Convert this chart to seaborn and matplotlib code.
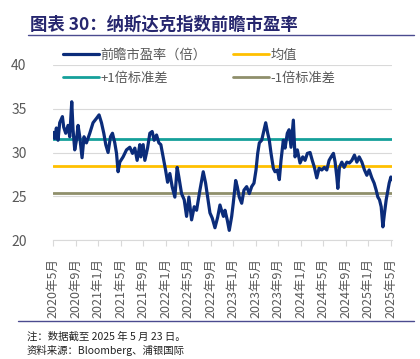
import numpy as np
import pandas as pd
import matplotlib
matplotlib.use("Agg")
import matplotlib.pyplot as plt
import seaborn as sns

# ------------------------
# DATA
# ------------------------
# months since 2020-05
month_pos = [
    0.0, 0.30, 0.60, 0.89, 1.19, 1.67, 1.90, 2.26, 2.67, 2.97,
    3.33, 3.56, 3.86, 4.16, 4.45, 4.75, 5.16, 5.51, 5.94, 6.53,
    7.11, 7.72, 8.18, 8.61, 9.02, 9.37, 9.78, 10.21, 10.56, 10.97,
    11.28, 11.56, 11.86, 12.45, 13.05, 13.64, 14.12, 14.53, 14.94, 15.42,
    15.60, 16.01, 16.31, 16.79, 17.20, 17.61, 17.96, 18.39, 18.80, 19.15,
    19.56, 19.99, 20.35, 20.75, 21.16, 21.64, 22.05, 22.35, 22.83, 23.30,
    23.72, 24.13, 24.61, 25.08, 25.50, 26.09, 26.68, 27.10, 27.46, 27.87,
    28.28, 28.76, 29.24, 29.65, 30.06, 30.27, 30.54, 30.94, 31.30, 31.73,
    32.01, 32.44, 32.72, 33.08, 33.51, 33.91, 34.39, 34.86, 35.28, 35.69,
    36.05, 36.35, 36.64, 37.06, 37.35, 37.77, 38.13, 38.41, 38.72, 39.13,
    39.43, 39.84, 40.19, 40.49, 40.90, 41.21, 41.61, 41.92, 42.27, 42.68,
    42.98, 43.39, 43.87, 44.35, 44.76, 45.17, 45.65, 46.04, 46.42, 46.84,
    47.25, 47.73, 48.19, 48.62, 49.03, 49.39, 49.80, 50.10, 50.40, 50.58,
    50.86, 51.29, 51.70, 52.18, 52.64, 53.07, 53.53, 53.96, 54.37, 54.85,
    55.31, 55.73, 56.14, 56.62, 57.03, 57.39, 57.69, 57.98, 58.28, 58.58,
    58.87, 59.17, 59.47, 59.70, 60.00, 60.18,
]
pe_values = [
    32.3, 31.6, 32.8, 31.4, 33.4, 34.1, 32.9, 32.2, 33.1, 31.8,
    35.8, 32.6, 30.3, 31.4, 33.1, 31.8, 29.4, 31.8, 31.1, 32.2,
    33.4, 33.9, 34.3, 33.4, 32.2, 30.9, 30.0, 31.8, 32.2, 31.1,
    29.9, 27.8, 28.9, 29.5, 30.3, 30.6, 29.9, 30.5, 29.1, 30.9,
    29.5, 30.9, 29.1, 30.5, 32.2, 32.4, 31.4, 32.0, 31.1, 30.9,
    29.5, 28.0, 26.6, 27.6, 26.1, 24.9, 28.3, 27.2, 25.3, 24.6,
    22.7, 24.9, 22.3, 23.8, 23.4, 25.7, 27.8, 26.5, 24.9, 23.1,
    22.5, 21.4, 22.6, 24.0, 23.1, 22.7, 23.4, 22.3, 21.1, 22.7,
    24.2, 26.8, 26.1, 24.9, 24.2, 25.7, 26.1, 25.3, 26.1, 26.5,
    28.0, 29.9, 31.1, 31.4, 32.2, 33.4, 32.2, 31.4, 29.9, 28.2,
    27.8, 28.0, 26.9, 29.1, 31.4, 30.5, 32.2, 32.6, 30.6, 33.7,
    29.5, 30.3, 28.8, 29.5, 29.1, 29.9, 30.0, 29.1, 28.3, 27.1,
    28.2, 28.0, 28.3, 28.0, 29.1, 29.5, 29.9, 28.9, 27.2, 25.9,
    28.3, 28.9, 28.3, 28.9, 28.8, 29.1, 29.7, 28.9, 29.5, 28.9,
    28.0, 27.4, 28.0, 27.1, 26.5, 25.7, 24.9, 24.6, 23.8, 21.5,
    23.1, 24.6, 25.7, 26.5, 27.2, 26.9,
]
mean_pe = 28.45
upper_pe = 31.5
lower_pe = 25.4

tick_months = list(range(0, 61, 4))
tick_labels = [
    "2020年5月", "2020年9月", "2021年1月", "2021年5月", "2021年9月",
    "2022年1月", "2022年5月", "2022年9月", "2023年1月", "2023年5月",
    "2023年9月", "2024年1月", "2024年5月", "2024年9月", "2025年1月",
    "2025年5月",
]

# ------------------------
# STYLE
# ------------------------
sns.set_theme(style="white")
plt.rcParams['font.family'] = ['Noto Sans CJK SC', 'DejaVu Sans']

GRAY_TXT = "#595959"
NAVY = "#0B2C7A"
TEAL = "#15A09A"
GOLD = "#FFC000"
OLIVE = "#8F8F6B"

fig = plt.figure(figsize=(4.2, 3.59), dpi=100)
ax = fig.add_axes([53 / 420, 1 - 240 / 359, (392 - 53) / 420, 175 / 359])

df = pd.DataFrame({"month": month_pos, "pe": pe_values})
sns.lineplot(data=df, x="month", y="pe", ax=ax, color=NAVY, linewidth=2.3,
             label="前瞻市盈率（倍）", zorder=3)
ax.axhline(upper_pe, color=TEAL, lw=2.0, label="+1倍标准差", zorder=2)
ax.axhline(mean_pe, color=GOLD, lw=2.0, label="均值", zorder=2)
ax.axhline(lower_pe, color=OLIVE, lw=2.0, label="-1倍标准差", zorder=2)

ax.set_xlim(0, 60.2)
ax.set_ylim(20, 40)
ax.set_yticks([20, 25, 30, 35, 40])
ax.yaxis.grid(True, color="#D9D9D9", lw=0.8)
ax.set_axisbelow(True)
for s in ["top", "right", "left"]:
    ax.spines[s].set_visible(False)
ax.spines["bottom"].set_color("#D9D9D9")
ax.spines["bottom"].set_linewidth(0.8)

ax.set_xticks(tick_months)
ax.set_xticklabels(tick_labels, rotation=90, fontsize=9, color=GRAY_TXT)
ax.tick_params(axis="x", bottom=True, length=4, width=0.8, color="#D9D9D9",
               pad=9)
ax.tick_params(axis="y", left=False, labelsize=10, labelcolor=GRAY_TXT, pad=13)
ax.set_xlabel("")
ax.set_ylabel("")

handles, labels = ax.get_legend_handles_labels()
order = [labels.index(l) for l in ["前瞻市盈率（倍）", "+1倍标准差", "均值", "-1倍标准差"]]
leg = ax.legend([handles[i] for i in order], [labels[i] for i in order],
                ncol=2, loc="upper left", bbox_to_anchor=(63 / 420, 1 - 49 / 359),
                bbox_transform=fig.transFigure, frameon=False, fontsize=9.5,
                handlelength=2.7, handletextpad=0.15, columnspacing=2.0,
                labelspacing=0.75, borderpad=0, borderaxespad=0)
for t in leg.get_texts():
    t.set_color(GRAY_TXT)

# ------------------------
# TITLE & NOTES
# ------------------------
fig.text(30 / 420, 1 - 25 / 359, "图表 30：纳斯达克指数前瞻市盈率", fontsize=12.5,
         fontweight="bold", color="#26266E", va="center", ha="left")
fig.add_artist(plt.Line2D([28 / 420, 414 / 420], [1 - 35 / 359, 1 - 35 / 359],
                          color="#4B4B8F", lw=1.0))
fig.add_artist(plt.Line2D([18 / 420, 414 / 420], [1 - 321 / 359, 1 - 321 / 359],
                          color="#4B4B8F", lw=1.0))
fig.text(27 / 420, 1 - 337 / 359, "注：数据截至 2025 年 5 月 23 日。", fontsize=7.5,
         color="#222222", va="center", ha="left")
fig.text(27 / 420, 1 - 350 / 359, "资料来源：Bloomberg、浦银国际", fontsize=7.5,
         color="#222222", va="center", ha="left")

fig.savefig("out.png", dpi=100)
